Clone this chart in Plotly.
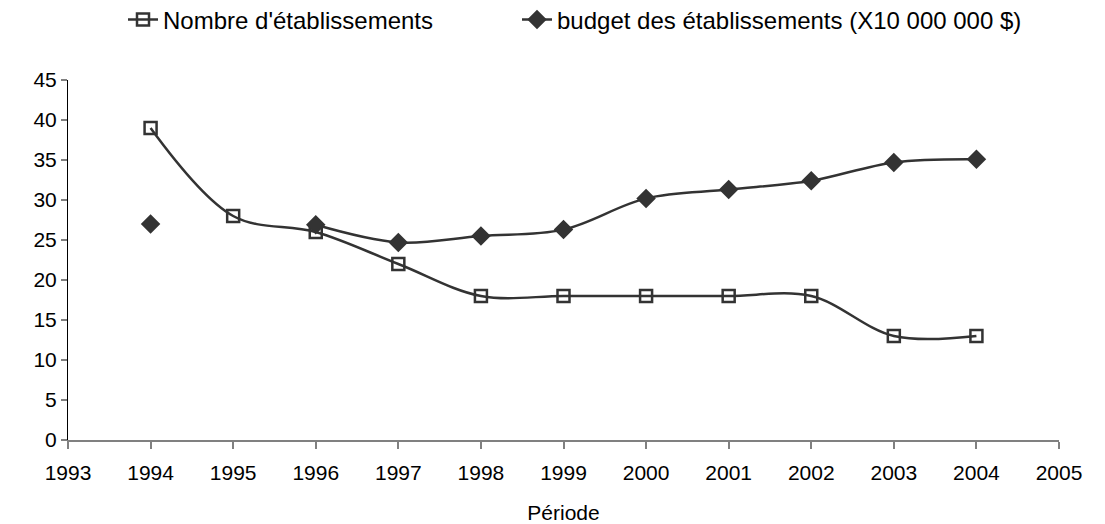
import plotly.graph_objects as go

years = [1994, 1995, 1996, 1997, 1998, 1999, 2000, 2001, 2002, 2003, 2004]
nombre_etablissements = [39, 28, 26, 22, 18, 18, 18, 18, 18, 13, 13]
budget_etablissements = [27.0, None, 26.9, 24.7, 25.5, 26.3, 30.2, 31.3, 32.4, 34.7, 35.1]

ink = "#333333"
font_family = "Liberation Sans, Arial, sans-serif"

fig = go.Figure()
fig.add_trace(go.Scatter(
    x=years, y=nombre_etablissements,
    name="Nombre d'établissements",
    mode="lines+markers",
    line=dict(color=ink, width=2.5, shape="spline", smoothing=1),
    marker=dict(symbol="square-open", size=12, color=ink, line=dict(width=2.5, color=ink)),
    legend="legend",
))
fig.add_trace(go.Scatter(
    x=years, y=budget_etablissements,
    name="budget des établissements (X10 000 000 $)",
    mode="lines+markers",
    connectgaps=False,
    line=dict(color=ink, width=2.5, shape="spline", smoothing=1),
    marker=dict(symbol="diamond", size=15, color=ink),
    legend="legend2",
))

legend_common = dict(
    orientation="h", xref="container", xanchor="left",
    yref="container", y=1 - 20 / 524, yanchor="middle",
    font=dict(size=24), bgcolor="rgba(0,0,0,0)",
)

fig.update_layout(
    width=1105, height=524,
    margin=dict(l=68, r=46, t=80, b=84, autoexpand=False),
    paper_bgcolor="white", plot_bgcolor="white",
    font=dict(family=font_family, size=21, color="black"),
    showlegend=True,
    legend=dict(legend_common, x=123 / 1105),
    legend2=dict(legend_common, x=517 / 1105),
    xaxis=dict(
        range=[1993, 2005], tickmode="linear", tick0=1993, dtick=1,
        showgrid=False, zeroline=False,
        showline=True, linecolor="#808080", linewidth=2,
        ticks="outside", ticklen=7, tickcolor="#808080", tickwidth=1.5,
        tickfont=dict(size=21), ticklabelstandoff=6,
        title=dict(text="Période", font=dict(size=21), standoff=22),
    ),
    yaxis=dict(
        range=[0, 45], tickmode="linear", tick0=0, dtick=5,
        showgrid=False, zeroline=False,
        showline=True, linecolor="black", linewidth=1,
        ticks="outside", ticklen=6, tickcolor="#808080", tickwidth=1.5,
        tickfont=dict(size=21),
    ),
)

fig.write_html("out.html")
